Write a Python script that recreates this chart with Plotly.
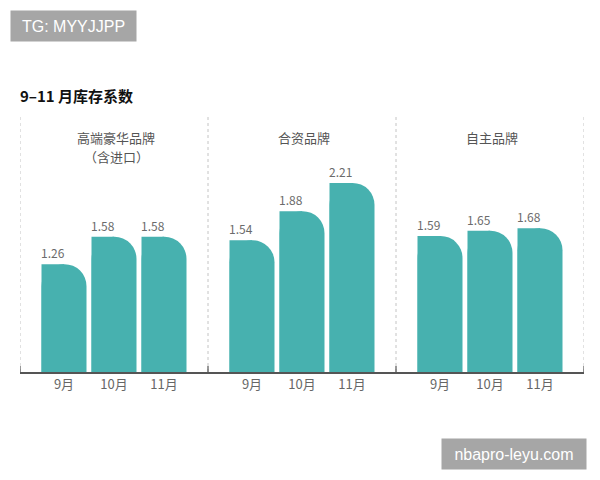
import plotly.graph_objects as go

groups = [["高端豪华品牌", "（含进口）"], ["合资品牌"], ["自主品牌"]]
months = ["9月", "10月", "11月"]
values = [
    [1.26, 1.58, 1.58],
    [1.54, 1.88, 2.21],
    [1.59, 1.65, 1.68],
]
title = "9–11 月库存系数"

BAR_COLOR = "#47B1AF"
GROUP_PITCH = 3.76
BAR_W = 0.9
X0 = -0.88
X1 = 10.4
L, R, T, B = 20, 16, 117, 108
PLOT_H = 480 - T - B
Y_MAX = 2.98

xs, ys, labels = [], [], []
for g, row in enumerate(values):
    for m, v in enumerate(row):
        xs.append(g * GROUP_PITCH + m)
        ys.append(v)
        labels.append(months[m])

fig = go.Figure()
fig.add_trace(go.Bar(x=xs, y=ys, width=BAR_W, offset=-BAR_W / 2,
                     marker=dict(color=BAR_COLOR, cornerradius=22, line=dict(width=0)),
                     hoverinfo="skip"))
fig.add_trace(go.Bar(x=xs, y=ys, width=BAR_W / 2, offset=-BAR_W / 2,
                     marker=dict(color=BAR_COLOR, line=dict(width=0)),
                     hoverinfo="skip"))

ann = []
for x, v in zip(xs, ys):
    ann.append(dict(x=x - BAR_W / 2, y=v, xref="x", yref="y", text=f"{v:.2f}",
                    showarrow=False, xanchor="left", yanchor="bottom", yshift=1, xshift=-3,
                    font=dict(size=12, color="#6b6b6b")))

shapes = []
for g in range(len(values) + 1):
    sx = X0 + g * GROUP_PITCH if g < len(values) else X1
    shapes.append(dict(type="line", xref="x", yref="paper", x0=sx, x1=sx, y0=0, y1=1,
                       line=dict(color="#c4c4c4", width=1, dash="dot")))
    shapes.append(dict(type="line", xref="x", yref="y", x0=sx, x1=sx, y0=0, y1=0.07,
                       line=dict(color="#555555", width=1.2)))

for g, lines in enumerate(groups):
    cx = g * GROUP_PITCH + 1
    for i, line in enumerate(lines):
        ann.append(dict(x=cx, y=(372 - (137 + 19 * i)) / PLOT_H, xref="x", yref="paper",
                        text=line, showarrow=False, xanchor="center", yanchor="middle",
                        xshift=2, font=dict(size=13, color="#555555")))

ann.append(dict(x=(10 - L) / 564, y=(372 - 10) / PLOT_H, xref="paper", yref="paper",
                text="TG: MYYJJPP", showarrow=False, xanchor="left", yanchor="top",
                bgcolor="#a6a6a6", width=121, height=26, borderpad=2,
                font=dict(size=16, color="white", family="Liberation Sans, Arial")))
ann.append(dict(x=(587 - L) / 564, y=(372 - 470) / PLOT_H, xref="paper", yref="paper",
                text="nbapro-leyu.com", showarrow=False, xanchor="right", yanchor="bottom",
                bgcolor="#a6a6a6", width=140, height=26, borderpad=2,
                font=dict(size=16, color="white", family="Liberation Sans, Arial")))

fig.update_layout(
    width=600, height=480,
    margin=dict(l=L, r=R, t=T, b=B),
    paper_bgcolor="white", plot_bgcolor="white",
    showlegend=False, barmode="overlay",
    font=dict(family="Noto Sans CJK SC, Noto Sans, sans-serif"),
    title=dict(text="<b>" + title + "</b>", x=20 / 600, xanchor="left",
               y=1 - 97 / 480, yanchor="middle",
               font=dict(size=15, color="#111111")),
    xaxis=dict(range=[X0, X1], tickvals=xs, ticktext=labels, showgrid=False,
               zeroline=False, showline=True, linecolor="#555555", linewidth=1.5,
               ticks="", tickfont=dict(size=13, color="#666666")),
    yaxis=dict(range=[0, Y_MAX], visible=False, showgrid=False, zeroline=False),
    annotations=ann, shapes=shapes,
)

fig.write_html("out.html")
